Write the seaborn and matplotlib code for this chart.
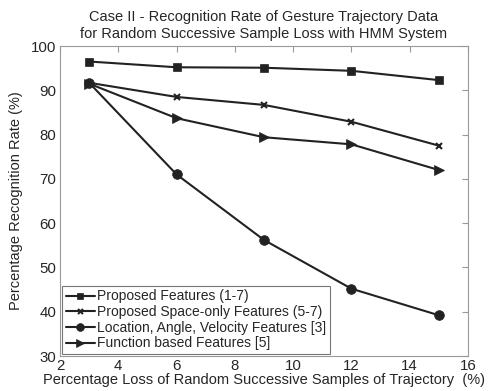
import seaborn as sns
import matplotlib.pyplot as plt
import numpy as np
import pandas as pd

# data
loss = [3, 6, 9, 12, 15]
proposed = [96.5, 95.2, 95.1, 94.4, 92.3]
space_only = [91.7, 88.5, 86.7, 82.9, 77.5]
lav = [91.7, 71.0, 56.2, 45.2, 39.2]
func_based = [91.5, 83.7, 79.4, 77.8, 72.0]

names = ['Proposed Features (1-7)', 'Proposed Space-only Features (5-7)',
         'Location, Angle, Velocity Features [3]', 'Function based Features [5]']
markers = ['s', 'x', 'o', '>']
sizes = [6, 4.5, 7, 7]

df = pd.DataFrame({
    'loss': loss * 4,
    'rate': proposed + space_only + lav + func_based,
    'series': np.repeat(names, len(loss)),
})

sns.set_style('white')
plt.rcParams['font.family'] = ['Liberation Sans', 'DejaVu Sans']

fig = plt.figure(figsize=(4.93, 3.91), dpi=100)
ax = fig.add_axes([0.1217, 0.0895, 0.8276, 0.7928])

for name, m, ms in zip(names, markers, sizes):
    sub = df[df.series == name]
    sns.lineplot(data=sub, x='loss', y='rate', ax=ax, color='#222222', lw=1.5,
                 marker=m, markersize=ms, markeredgewidth=1.5 if m == 'x' else 0.5,
                 markeredgecolor='#222222', label=name)

ax.set_xlim(2, 16)
ax.set_ylim(30, 100)
ax.set_xticks(np.arange(2, 17, 2))
ax.set_yticks(np.arange(30, 101, 10))
ax.tick_params(direction='in', length=4, top=True, right=True, labelsize=10.8,
               color='#999999', pad=2.5)
for s in ax.spines.values():
    s.set_color('#999999')
    s.set_linewidth(0.8)

ax.set_xlabel('Percentage Loss of Random Successive Samples of Trajectory  (%)',
              fontsize=10.5, labelpad=0)
ax.set_ylabel('Percentage Recognition Rate (%)', fontsize=10.5, labelpad=6)
ax.set_title('Case II - Recognition Rate of Gesture Trajectory Data\n'
             'for Random Successive Sample Loss with HMM System', fontsize=10.5, pad=6)

leg = ax.legend(loc='lower left', fontsize=10, frameon=True, fancybox=False,
                handlelength=2.1, handletextpad=0.2, borderpad=0.25, labelspacing=0.12,
                borderaxespad=0.15, markerscale=0.8)
leg.get_frame().set_edgecolor('#555555')
leg.get_frame().set_linewidth(0.8)

plt.savefig('out.png', dpi=100)
